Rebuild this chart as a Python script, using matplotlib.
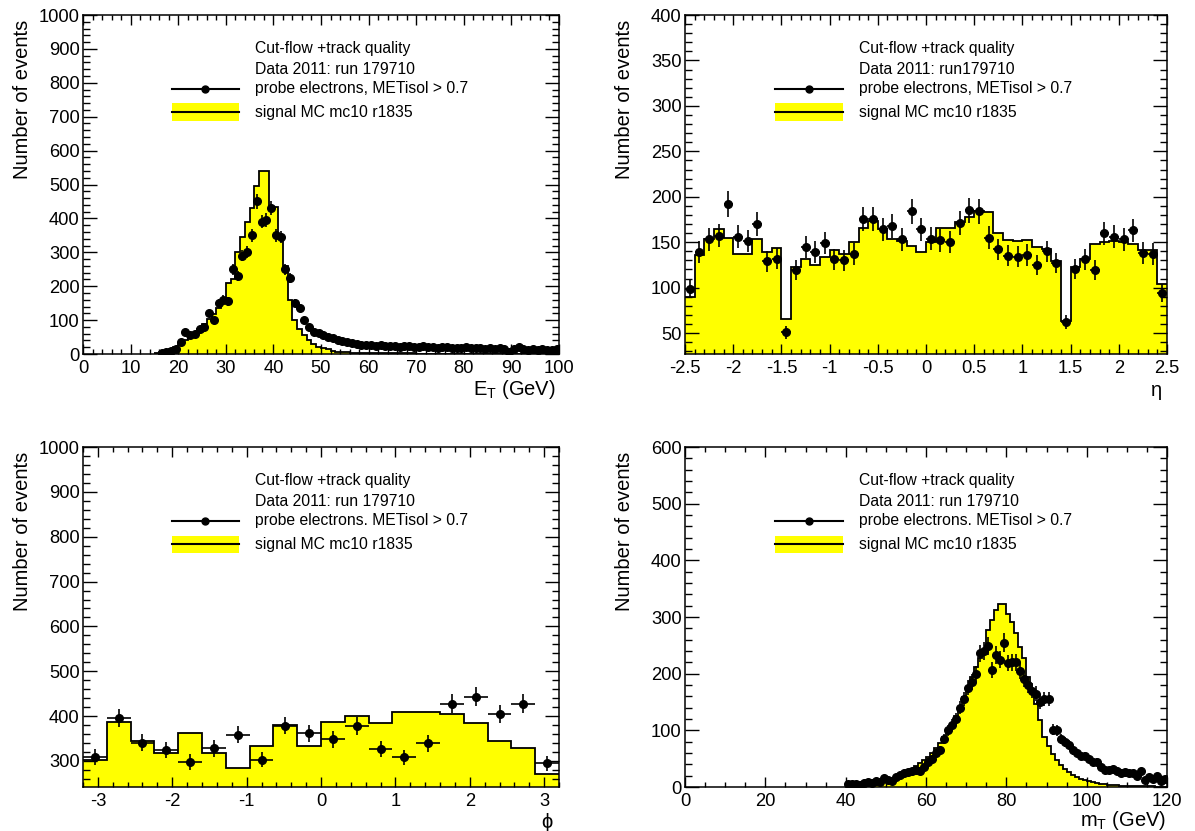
import numpy as np
import matplotlib
matplotlib.use("Agg")
import matplotlib.pyplot as plt
from matplotlib.ticker import MultipleLocator, FuncFormatter
from matplotlib.patches import Rectangle
from matplotlib.lines import Line2D

plt.rcParams['font.family'] = ['Liberation Sans', 'DejaVu Sans']
plt.rcParams['axes.unicode_minus'] = False
plt.rcParams['mathtext.fontset'] = 'custom'
plt.rcParams['mathtext.rm'] = 'Liberation Sans'
plt.rcParams['mathtext.it'] = 'Liberation Sans'
plt.rcParams['mathtext.default'] = 'regular'

YELLOW = '#ffff00'

# ---------------- electron E_T (GeV), 1 GeV bins ----------------
et_mc_edges = np.arange(15, 101, 1.0)
et_mc = [3, 6, 10, 15, 22, 30, 40, 50, 62, 75,
         88, 102, 118, 135, 160, 210, 222, 300, 345, 390,
         430, 495, 540, 540, 435, 435, 345, 260, 160, 100,
         75, 55, 40, 30, 22, 18, 14, 10, 7, 6,
         5, 4, 3, 3, 2, 2, 2, 2, 2, 2,
         2, 2, 2, 2, 2, 1, 1, 1, 1, 1,
         1, 1, 1, 1, 1, 1, 1, 1, 1, 1,
         1, 1, 1, 1, 1, 1, 1, 1, 1, 1,
         1, 1, 1, 1, 1]
et_data_edges = np.arange(16, 101, 1.0)
et_data = [2, 5, 8, 15, 35, 65, 55, 60, 75, 80,
           120, 100, 150, 160, 155, 250, 230, 290, 300, 350,
           450, 390, 395, 430, 350, 345, 250, 225, 150, 135,
           100, 80, 65, 62, 55, 50, 47, 42, 38, 35,
           33, 30, 28, 27,
           26, 25, 27, 24, 23, 25, 22, 24, 23, 21,
           22, 23, 20, 21, 19, 20, 21, 18, 19, 17,
           20, 18, 17, 19, 16, 18, 15, 17, 14, 5,
           16, 22, 14, 13, 15, 12, 14, 12, 13, 16]

# ---------------- electron eta, 0.1 bins ----------------
eta_edges = np.round(np.arange(-2.5, 2.5001, 0.1), 2)
eta_mc = [90, 136, 153, 164, 155, 137, 137, 153, 139, 144,
          65, 123, 131, 125, 134, 141, 137, 150, 166, 173,
          164, 153, 151, 146, 139, 150, 166, 166, 172, 178,
          184, 183, 160, 152, 151, 152, 145, 142, 129, 63,
          123, 132, 148, 150, 151, 150, 148, 141, 141, 104]
eta_data = [98, 139, 153, 157, 192, 156, 151, 170, 129, 132,
            51, 119, 145, 139, 149, 131, 130, 137, 176, 176,
            164, 168, 153, 184, 164, 154, 152, 150, 171, 185,
            184, 155, 142, 135, 134, 136, 125, 140, 127, 62,
            121, 131, 119, 160, 156, 153, 163, 138, 137, 94]

# ---------------- electron phi, 0.32 bins ----------------
phi_edges = np.round(np.linspace(-3.2, 3.2, 21), 3)
phi_mc = [302, 388, 345, 317, 362, 318, 284, 333, 380, 333,
          388, 401, 384, 410, 410, 404, 384, 345, 330, 271]
phi_data = [309, 395, 341, 324, 298, 328, 358, 303, 379, 362,
            348, 378, 326, 308, 339, 428, 443, 405, 428, 295]

# ---------------- transverse mass m_T (GeV), 1 GeV bins ----------------
mt_edges = np.arange(40, 121, 1.0)
mt_mc = [1, 1, 2, 2, 3, 3, 4, 5, 6, 8,
         10, 12, 15, 18, 22, 27, 32, 37, 42, 47,
         53, 60, 68, 77, 88, 100, 112, 125, 140, 158,
         177, 195, 212, 228, 242, 277, 295, 312, 323, 323,
         306, 292, 271, 247, 227, 194, 171, 147, 118, 88,
         72, 59, 48, 38, 32, 27, 22, 18, 15, 12,
         10, 8, 7, 6, 5, 4, 3, 3, 2, 2,
         2, 1, 1, 1, 1, 1, 1, 0, 0, 0]
mt_data = [5, 5, 6, 4, 7, 8, 7, 10, 9, 16,
           12, 10, 18, 22, 25, 26, 28, 30, 28, 35,
           45, 50, 60, 65, 85, 100, 110, 120, 140, 155,
           175, 185, 200, 236, 240, 249, 206, 233, 225, 255,
           219, 220, 220, 205, 190, 180, 170, 165, 150, 156,
           155, 101, 100, 85, 80, 75, 65, 60, 55, 55,
           50, 45, 44, 35, 30, 30, 32, 28, 25, 27,
           25, 24, 20, 29, 12, 18, 15, 20, 10, 15]

LEGEND_HEAD = 'Cut-flow +track quality'
MC_LABEL = 'signal MC mc10 r1835'

FIG_W, FIG_H = 1195, 831


def fmt_tick(v, pos):
    if abs(v) < 1e-9:
        return '0'
    return '%g' % round(v, 6)


def make_axes(fig, left, top, right, bottom):
    return fig.add_axes([left / FIG_W, 1 - bottom / FIG_H,
                         (right - left) / FIG_W, (bottom - top) / FIG_H])


def style_axes(ax, xlim, ylim, xmaj, xmin, ymaj, ymin):
    ax.set_xlim(*xlim)
    ax.set_ylim(*ylim)
    ax.xaxis.set_major_locator(MultipleLocator(xmaj))
    ax.xaxis.set_minor_locator(MultipleLocator(xmin))
    ax.yaxis.set_major_locator(MultipleLocator(ymaj))
    ax.yaxis.set_minor_locator(MultipleLocator(ymin))
    ax.xaxis.set_major_formatter(FuncFormatter(fmt_tick))
    ax.yaxis.set_major_formatter(FuncFormatter(fmt_tick))
    ax.tick_params(which='both', direction='in', top=True, right=True,
                   labelsize=13.2, width=1.0, colors='black')
    ax.tick_params(axis='x', which='major', length=7.5, pad=4)
    ax.tick_params(axis='x', which='minor', length=3.8)
    ax.tick_params(axis='y', which='major', length=10, pad=2.5)
    ax.tick_params(axis='y', which='minor', length=5)
    for sp in ax.spines.values():
        sp.set_linewidth(1.1)


def draw_hist(ax, edges, mc, data_edges, data, base):
    mc = np.asarray(mc, dtype=float)
    data = np.asarray(data, dtype=float)
    ax.stairs(mc, edges, baseline=base, fill=True, color=YELLOW, lw=0, zorder=1)
    ax.stairs(mc, edges, baseline=None, color='black', lw=1.3, zorder=2)
    centers = 0.5 * (data_edges[:-1] + data_edges[1:])
    half = 0.5 * np.diff(data_edges)
    ax.errorbar(centers, data, xerr=half, yerr=np.sqrt(data), fmt='o',
                color='black', ms=5.5, elinewidth=1.2, capsize=0, zorder=3)


def draw_key(ax, run_text, probe_text, height_px):
    rows = [1 - 33 / height_px, 1 - 54 / height_px, 1 - 74 / height_px, 1 - 97 / height_px]
    x0, x1, xt = 0.187, 0.327, 0.362
    kw = dict(transform=ax.transAxes, fontsize=11.3, va='center', ha='left')
    ax.text(xt, rows[0], LEGEND_HEAD, **kw)
    ax.text(xt, rows[1], run_text, **kw)
    ax.text(xt, rows[2], probe_text, **kw)
    ax.text(xt, rows[3], MC_LABEL, **kw)
    ax.add_line(Line2D([x0, x1], [rows[2], rows[2]], transform=ax.transAxes,
                       color='black', lw=1.5))
    ax.add_line(Line2D([(x0 + x1) / 2], [rows[2]], transform=ax.transAxes,
                       marker='o', ms=5, color='black', lw=0))
    h = 17 / height_px
    ax.add_patch(Rectangle((x0, rows[3] - h / 2), x1 - x0, h, transform=ax.transAxes,
                           facecolor=YELLOW, edgecolor='none'))
    ax.add_line(Line2D([x0, x1], [rows[3], rows[3]], transform=ax.transAxes,
                       color='black', lw=1.5))


def ylabel(ax, width_px, height_px):
    ax.text(-61 / width_px, 1 - 5 / height_px, 'Number of events', rotation=90,
            ha='center', va='top', fontsize=14.5, transform=ax.transAxes)


fig = plt.figure(figsize=(FIG_W / 100, FIG_H / 100), dpi=100)
fig.patch.set_facecolor('white')

# E_T panel
ax1 = make_axes(fig, 83, 15, 559, 354)
draw_hist(ax1, et_mc_edges, et_mc, et_data_edges, et_data, 0)
style_axes(ax1, (0, 100), (0, 1000), 10, 2, 100, 20)
draw_key(ax1, 'Data 2011: run 179710', 'probe electrons, METisol > 0.7', 339)
ylabel(ax1, 476, 339)
ax1.text(0.993, -35 / 339, r'E$_{T}$ (GeV)', transform=ax1.transAxes,
         ha='right', va='center', fontsize=14.5)

# eta panel
ax2 = make_axes(fig, 685, 15, 1167, 354)
draw_hist(ax2, eta_edges, eta_mc, eta_edges, eta_data, 27)
style_axes(ax2, (-2.5, 2.5), (27, 400), 0.5, 0.1, 50, 10)
draw_key(ax2, 'Data 2011: run179710', 'probe electrons, METisol > 0.7', 339)
ylabel(ax2, 482, 339)
ax2.text(0.978, -36 / 339, 'η', transform=ax2.transAxes,
         ha='center', va='center', fontsize=14.5)

# phi panel
ax3 = make_axes(fig, 83, 447, 559, 787)
draw_hist(ax3, phi_edges, phi_mc, phi_edges, phi_data, 242)
style_axes(ax3, (-3.2, 3.2), (242, 1000), 1, 0.2, 100, 20)
draw_key(ax3, 'Data 2011: run 179710', 'probe electrons. METisol > 0.7', 340)
ylabel(ax3, 476, 340)
ax3.text(0.974, -36 / 340, 'ϕ', transform=ax3.transAxes,
         ha='center', va='center', fontsize=14.5,
         family=['Liberation Sans', 'DejaVu Sans'])

# m_T panel
ax4 = make_axes(fig, 685, 447, 1167, 787)
draw_hist(ax4, mt_edges, mt_mc, mt_edges, mt_data, 0)
style_axes(ax4, (0, 120), (0, 600), 20, 5, 100, 20)
draw_key(ax4, 'Data 2011: run 179710', 'probe electrons. METisol > 0.7', 340)
ylabel(ax4, 482, 340)
ax4.text(0.997, -34 / 340, r'm$_{T}$ (GeV)', transform=ax4.transAxes,
         ha='right', va='center', fontsize=14.5)

fig.savefig('out.png', dpi=100, facecolor='white')
